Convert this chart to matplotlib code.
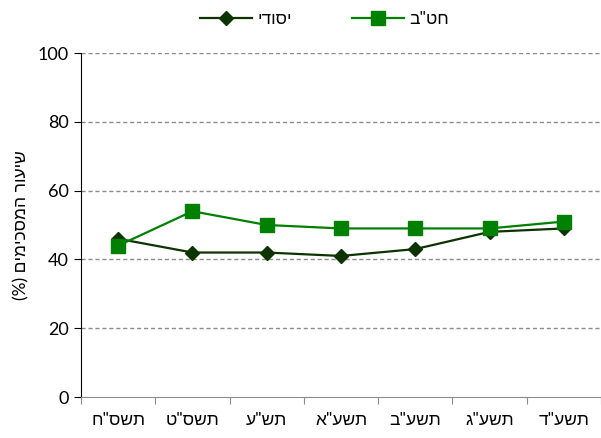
import matplotlib
matplotlib.use("Agg")
import matplotlib.pyplot as plt
from matplotlib.lines import Line2D

plt.rcParams['font.family'] = ['Lato', 'Liberation Sans', 'DejaVu Sans']

categories = ['תשס"ח', 'תשס"ט', 'תש"ע', 'תשע"א', 'תשע"ב', 'תשע"ג', 'תשע"ד']
elementary = [46, 42, 42, 41, 43, 48, 49]   # יסודי
middle = [44, 54, 50, 49, 49, 49, 51]        # חט"ב
yticks = [0, 20, 40, 60, 80, 100]

def vis(s):
    # matplotlib draws left-to-right; reverse Hebrew for visual RTL order
    return s[::-1]

DARK = '#0c3300'
GREEN = '#008000'

W, H = 601, 438
fig = plt.figure(figsize=(W / 100, H / 100), dpi=100)
ax = fig.add_axes([81 / W, 1 - 397 / H, (601 - 81) / W, (397 - 53) / H])

x = list(range(len(categories)))
ax.plot(x, elementary, color=DARK, lw=1.6, marker='D', ms=7.5,
        markerfacecolor=DARK, markeredgecolor=DARK, zorder=3)
ax.plot(x, middle, color=GREEN, lw=1.6, marker='s', ms=10.5,
        markerfacecolor=GREEN, markeredgecolor=GREEN, zorder=4)

ax.set_xlim(-0.5, len(categories) - 0.5)
ax.set_ylim(0, 100)
ax.set_yticks(yticks)
ax.set_yticklabels([str(v) for v in yticks], fontsize=13)
for v in yticks[1:]:
    ax.axhline(v, color='#8c8c8c', lw=1, ls=(0, (3, 2)), zorder=1)

ax.set_xticks([i - 0.5 for i in range(len(categories) + 1)])
ax.set_xticklabels([])
ax.set_xticks(x, minor=True)
ax.set_xticklabels([vis(c) for c in categories], minor=True, fontsize=12.5)
ax.tick_params(axis='x', which='minor', length=0, pad=11)
ax.tick_params(axis='x', which='major', length=5, color='#8c8c8c')
ax.tick_params(axis='y', length=5, color='black', pad=4)

for s in ['top', 'right']:
    ax.spines[s].set_visible(False)
ax.spines['left'].set_color('black')
ax.spines['bottom'].set_color('#8c8c8c')

ax.set_ylabel('(%) ' + vis('שיעור המסכימים'), fontsize=12.5, labelpad=6)

handles = [
    Line2D([], [], color=DARK, lw=1.6, marker='D', ms=7.5),
    Line2D([], [], color=GREEN, lw=1.6, marker='s', ms=10.5),
]
fig.legend(handles, [vis('יסודי'), vis('חט"ב')], loc='upper center',
           bbox_to_anchor=(0.54, 1.01), ncol=2, frameon=False, fontsize=12.5,
           handlelength=3.0, columnspacing=3.45, handletextpad=0.3)

fig.savefig('out.png', dpi=100)
